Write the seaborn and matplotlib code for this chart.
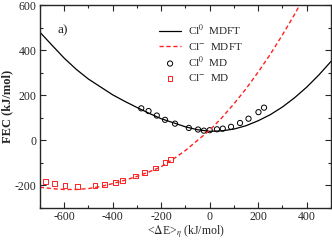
import pandas as pd
import seaborn as sns
import matplotlib.pyplot as plt

# Cl0 MDFT (solid black)
x_cl0_mdft = [-700, -650, -600, -550, -500, -450, -400, -350, -300, -250, -200, -150, -100, -50,
              0, 50, 100, 150, 200, 250, 300, 350, 400, 450, 500]
y_cl0_mdft = [480, 422, 365, 315, 272, 237, 202, 173, 146, 120, 96, 78, 60, 47,
              40, 42, 50, 65, 87, 114, 148, 189, 236, 290, 350]

# Cl- MDFT (dashed red)
x_clm_mdft = [-700, -650, -600, -550, -500, -450, -400, -350, -300, -250, -200, -150, -100, -50,
              0, 50, 100, 150, 200, 250, 300, 350, 400]
y_clm_mdft = [-208, -214, -218, -218, -214, -205, -192, -177, -160, -140, -117, -83, -45, 0,
              45, 100, 162, 229, 303, 382, 468, 559, 657]

# Cl0 MD (circles)
x_cl0_md = [-282, -252, -218, -184, -143, -86, -48, -24, 0, 30, 54, 88, 125, 160, 201, 224]
y_cl0_md = [142, 130, 110, 91, 74, 55, 48, 43, 45, 49, 52, 60, 77, 96, 125, 145]

# Cl- MD (squares)
x_clm_md = [-676, -640, -596, -544, -473, -433, -388, -358, -306, -268, -222, -184, -163]
y_clm_md = [-181, -191, -199, -206, -201, -196, -187, -177, -158, -143, -123, -100, -86]

sns.set_style("ticks")
plt.rcParams['font.family'] = ['Liberation Serif', 'DejaVu Serif']
plt.rcParams['mathtext.fontset'] = 'stix'
plt.rcParams['axes.unicode_minus'] = False

fig = plt.figure(figsize=(3.32, 2.41), dpi=100)
ax = fig.add_axes([0.12, 0.137, 0.877, 0.842])

sns.lineplot(x=x_cl0_mdft, y=y_cl0_mdft, ax=ax, color="black", lw=0.9,
             label=r"Cl$^{0}$  MDFT")
sns.lineplot(x=x_clm_mdft, y=y_clm_mdft, ax=ax, color="#ff2020", lw=1.0,
             label=r"Cl$^{\mathrm{-}}$  MDFT", dashes=False, linestyle=(0, (3, 2)))
sns.scatterplot(x=x_cl0_md, y=y_cl0_md, ax=ax, marker="o", s=14, facecolor="none",
                edgecolor="black", linewidth=0.7, label=r"Cl$^{0}$  MD")
sns.scatterplot(x=x_clm_md, y=y_clm_md, ax=ax, marker="s", s=12, facecolor="none",
                edgecolor="#ff2020", linewidth=0.7, label=r"Cl$^{\mathrm{-}}$  MD")

ax.set_xlim(-700, 500)
ax.set_ylim(-300, 600)
ax.set_xticks([-600, -400, -200, 0, 200, 400])
ax.set_xticks(range(-700, 501, 100), minor=True)
ax.set_yticks([-200, 0, 200, 400, 600])
ax.set_yticks(range(-300, 601, 100), minor=True)
ax.tick_params(which="both", direction="in", top=True, right=True, labelsize=8.5)
ax.tick_params(which="major", length=4, width=0.8, pad=2.5)
ax.tick_params(which="minor", length=2, width=0.8)
for s in ax.spines.values():
    s.set_linewidth(1.0)

ax.set_xlabel(r"<$\Delta$E>$_{\eta}$ (kJ/mol)", fontsize=8.5, labelpad=0)
ax.set_ylabel("FEC (kJ/mol)", fontsize=9, fontweight="bold", labelpad=1)
ax.text(0.06, 0.875, "a)", transform=ax.transAxes, fontsize=9.5, va="center")

ax.legend(loc="upper left", bbox_to_anchor=(0.39, 0.94), frameon=False, fontsize=8,
          handlelength=2.0, handletextpad=0.6, labelspacing=0.25, borderpad=0)

plt.savefig("out.png", dpi=100)
